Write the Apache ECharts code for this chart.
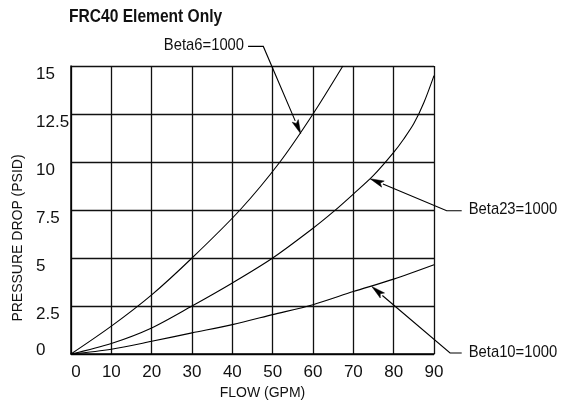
<!DOCTYPE html>
<html>
<head>
<meta charset="utf-8">
<script src="https://cdn.jsdelivr.net/npm/echarts@6/dist/echarts.min.js"></script>
<style>
html,body{margin:0;padding:0;background:#fff;}
#chart{width:563px;height:406px;}
</style>
</head>
<body>
<div id="chart"></div>
<script>
// ---- data ----
const chartTitle = 'FRC40 Element Only';
const xName = 'FLOW (GPM)';
const yName = 'PRESSURE DROP (PSID)';
const xTickLabels = ['0','10','20','30','40','50','60','70','80','90'];
const yTickLabels = ['0','2.5','5','7.5','10','12.5','15'];

const beta6Flow  = [0, 10, 20, 30, 41.9, 51.8, 60, 67.4];
const beta6Drop  = [0, 1.45, 3.08, 5.0, 7.5, 10, 12.5, 15];

const beta23Flow = [0, 10, 20, 30, 40, 50, 60, 65, 70, 75, 80, 82.5, 85, 87.5, 90];
const beta23Drop = [0, 0.55, 1.36, 2.5, 3.7, 5.0, 6.55, 7.4, 8.33, 9.3, 10.5, 11.2, 12.0, 13.1, 14.5];

const beta10Flow = [0, 10, 20, 30, 40, 50, 60, 70, 80, 90];
const beta10Drop = [0, 0.25, 0.66, 1.1, 1.53, 2.05, 2.57, 3.25, 3.9, 4.65];

// annotation labels and their anchor points (in data units: flow, drop)
const annLabels = ['Beta6=1000', 'Beta23=1000', 'Beta10=1000'];
const annTip  = [[56.96, 11.47], [74.14, 9.13], [74.56, 3.52]];
const annBend = [[47.68, 16.02], [93.15, 7.46], [93.98, 0.05]];
const annEnd  = [[43.9, 16.02], [96.87, 7.46], [96.87, 0.05]];
const annSide = ['left', 'right', 'right'];

// ---- chart ----
const FONT = "'Liberation Sans', Arial, sans-serif";
const INK = '#111';
const zip = (a, b) => a.map((v, i) => [v, b[i]]);

const chart = echarts.init(document.getElementById('chart'), null, {renderer: 'canvas'});

const lineSeries = (name, fx, dy) => ({
  name, type: 'line', data: zip(fx, dy), showSymbol: false,
  smooth: 0.3,
  lineStyle: {color: '#000', width: 1.1}, z: 3, silent: true
});

chart.setOption({
  animation: false,
  backgroundColor: '#fff',
  graphic: [{
    type: 'text', x: 69, y: 17, scaleX: 0.82, originX: 0,
    style: {text: chartTitle, fontFamily: FONT, fontSize: 19, fontWeight: 'bold',
            fill: INK, align: 'left', verticalAlign: 'middle'}
  }],
  grid: {left: 71, right: 129, top: 66, bottom: 52, containLabel: false, outerBoundsMode: 'none'},
  xAxis: {
    type: 'value', min: 0, max: 90, interval: 10,
    name: xName, nameLocation: 'middle', nameGap: 29,
    nameTextStyle: {fontFamily: FONT, fontSize: 14, color: INK, padding: [0, 0, 0, 20]},
    axisLine: {lineStyle: {color: '#000', width: 1.5}},
    axisTick: {show: false},
    splitLine: {show: true, lineStyle: {color: INK, width: 1.3}},
    axisLabel: {
      margin: 10, fontFamily: FONT, fontSize: 17, color: INK,
      formatter: v => {
        const s = xTickLabels[Math.round(v / 10)];
        return v === 0 ? '{l|' + s + '}' : s;
      },
      rich: {l: {fontFamily: FONT, fontSize: 17, color: INK, padding: [0, 0, 0, 10]}}
    }
  },
  yAxis: {
    type: 'value', min: 0, max: 15, interval: 2.5,
    name: yName, nameLocation: 'middle', nameGap: 46, nameRotate: 90,
    nameTextStyle: {fontFamily: FONT, fontSize: 14, color: INK, padding: [0, 56, 0, 0]},
    axisLine: {lineStyle: {color: '#000', width: 1.5}},
    axisTick: {show: false},
    splitLine: {show: true, lineStyle: {color: INK, width: 1.3}},
    axisLabel: {
      margin: 35, align: 'left', fontFamily: FONT, fontSize: 17, color: INK,
      formatter: v => {
        const s = yTickLabels[Math.round(v / 2.5)];
        return v === 0 ? '{z|' + s + '}' : '{n|' + s + '}';
      },
      rich: {
        n: {fontFamily: FONT, fontSize: 17, color: INK, padding: [16, 0, 0, 0]},
        z: {fontFamily: FONT, fontSize: 17, color: INK, padding: [0, 0, 8, 0]}
      }
    }
  },
  series: [
    lineSeries('Beta6=1000', beta6Flow, beta6Drop),
    lineSeries('Beta23=1000', beta23Flow, beta23Drop),
    lineSeries('Beta10=1000', beta10Flow, beta10Drop),
    {
      type: 'custom', clip: false, silent: true, z: 5,
      data: annLabels.map((_, i) => [i, 0]),
      renderItem: (params, api) => {
        const i = params.dataIndex;
        const tip = api.coord(annTip[i]);
        const bend = api.coord(annBend[i]);
        const end = api.coord(annEnd[i]);
        const dx = tip[0] - bend[0], dy = tip[1] - bend[1];
        const len = Math.sqrt(dx * dx + dy * dy);
        const ux = dx / len, uy = dy / len;
        const L = 14, W = 3.3;
        const base = [tip[0] - ux * L, tip[1] - uy * L];
        const px = -uy, py = ux;
        const left = annSide[i] === 'left';
        const tx = left ? end[0] - 4 : end[0] + 7;
        return {
          type: 'group',
          children: [
            {type: 'polyline', shape: {points: [end, bend, base]},
             style: {stroke: '#000', lineWidth: 1.1, fill: null}},
            {type: 'polygon', shape: {points: [tip,
              [base[0] + px * W, base[1] + py * W],
              [tip[0] - ux * L * 0.8, tip[1] - uy * L * 0.8],
              [base[0] - px * W, base[1] - py * W]]},
             style: {fill: '#000', stroke: '#000', lineWidth: 0.5}},
            {type: 'text', x: tx, y: end[1] - 1, scaleX: 0.87, originX: 0,
             style: {text: annLabels[i], fontFamily: FONT, fontSize: 17, fill: INK,
                     align: left ? 'right' : 'left', verticalAlign: 'middle'}}
          ]
        };
      }
    }
  ]
});
</script>
</body>
</html>
